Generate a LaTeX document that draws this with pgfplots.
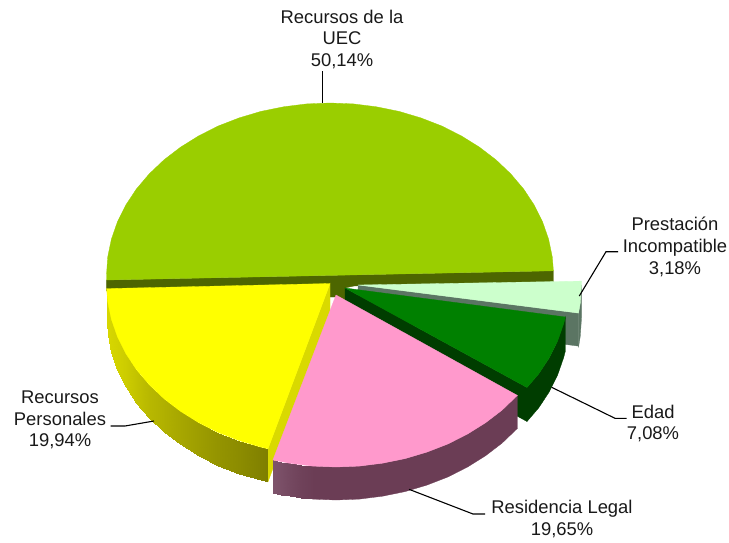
\documentclass[border=0pt]{standalone}
\usepackage{fontspec}
\setmainfont{Liberation Sans}
\usepackage{pgfplots}
\pgfplotsset{compat=1.18}
\pgfplotsset{
  pc/.style={fill=#1,draw=#1,line width=0.3pt,mark=none,forget plot},
  lead/.style={draw=black,line width=1.1pt,mark=none,forget plot,line join=miter},
  wall/.style={patch,patch type=rectangle,shader=interp,point meta=explicit,mark=none,forget plot}
}
\tikzset{lab/.style={align=center,font=\fontsize{18.4}{21.7}\selectfont,text=black!90,inner sep=0pt,anchor=center}}
\definecolor{gtop}{HTML}{9ACE00}
\definecolor{gside}{HTML}{4D6600}
\definecolor{ltop}{HTML}{CCFFCC}
\definecolor{lside}{HTML}{5B7563}
\definecolor{dtop}{HTML}{008000}
\definecolor{dside}{HTML}{003D00}
\definecolor{ystrip}{HTML}{D9D900}
\definecolor{ytop}{HTML}{FFFF00}
\definecolor{ptop}{HTML}{FF99CC}
\definecolor{pe}{HTML}{6B3D55}
\pgfplotstableread{
x y c
106.6 288.6 88
107.7 301.5 88
107.7 334.5 88
106.6 321.6 88
107.7 301.5 88
111.4 319.3 86
111.4 352.3 86
107.7 334.5 88
111.4 319.3 86
117.4 336.6 83
117.4 369.6 83
111.4 352.3 86
117.4 336.6 83
125.8 353.5 77
125.8 386.5 77
117.4 369.6 83
125.8 353.5 77
136.4 369.5 68
136.4 402.5 68
125.8 386.5 77
136.4 369.5 68
149.2 384.6 57
149.2 417.6 57
136.4 402.5 68
149.2 384.6 57
163.9 398.6 49
163.9 431.6 49
149.2 417.6 57
163.9 398.6 49
180.5 411.3 40
180.5 444.3 40
163.9 431.6 49
180.5 411.3 40
198.6 422.6 30
198.6 455.6 30
180.5 444.3 40
198.6 422.6 30
218.2 432.5 21
218.2 465.5 21
198.6 455.6 30
218.2 432.5 21
239.1 440.6 13
239.1 473.6 13
218.2 465.5 21
239.1 440.6 13
260.9 447.1 3
260.9 480.1 3
239.1 473.6 13
260.9 447.1 3
268 448.8 0
268 481.8 0
260.9 480.1 3
}\yellowwall
\pgfplotstableread{
x y c
272.9 460 190
281 461.6 170
281 494.6 170
272.9 493 190
281 461.6 170
289.5 463.2 145
289.5 496.2 145
281 494.6 170
289.5 463.2 145
301 464.7 120
301 497.7 120
289.5 496.2 145
301 464.7 120
312.6 466.1 103
312.6 499.1 103
301 497.7 120
}\pinkwall
\begin{document}
\begin{tikzpicture}
\begin{axis}[
  scale only axis,width=729pt,height=542pt,
  xmin=0,xmax=729,ymin=0,ymax=542,y dir=reverse,
  point meta min=0,point meta max=200,
  colormap={walls}{rgb255(0)=(127,127,0) rgb255(100)=(227,227,0) rgb255(101)=(107,61,85) rgb255(200)=(128,86,110)},
  axis lines=none,clip=false]
\addplot[draw=none,forget plot] coordinates {(0,0)(729,542)};
% Recursos de la UEC
\addplot[pc=gside] coordinates {(106.6,280)(553.4,270.8)(553.4,281.8)(106.6,291)} --cycle;
\addplot[pc=gtop] coordinates {(553.4,270.8)(552.3,257.0)(548.6,239.2)(542.6,221.9)(534.2,205.0)(523.6,189.0)(510.8,173.9)(496.1,159.9)(479.5,147.2)(461.4,135.9)(441.8,126.0)(420.9,117.9)(399.1,111.4)(376.5,106.8)(353.4,103.9)(330,103)(306.6,103.9)(283.5,106.8)(260.9,111.4)(239.1,117.9)(218.2,126.0)(198.6,135.9)(180.5,147.2)(163.9,159.9)(149.2,173.9)(136.4,189.0)(125.8,205.0)(117.4,221.9)(111.4,239.2)(107.7,257.0)(106.5,275)(106.6,280)} --cycle;
\addplot[pc=gside] coordinates {(330,283)(358,283.5)(358,285)(345,288)(345,300)(336,297)(330,297)} --cycle;
% Prestacion Incompatible
\addplot[pc=lside] coordinates {(358,285)(578.5,313.1)(578.5,346.1)(358,318)} --cycle;
\addplot[pc=lside] coordinates {(581.5,285)(580.3,303)(578.5,313.1)(578.5,347.5)(580.3,336)(581.5,318)} --cycle;
\addplot[pc=ltop] coordinates {(358,285)(581.5,281.1)(581.5,285)(580.3,303)(578.5,313.1)} --cycle;
% Edad
\addplot[pc=dside] coordinates {(345,288)(527,387.5)(527,421.5)(345,322)} --cycle;
\addplot[pc=dside] coordinates {(527,387.5)(538.6,374)(549.2,358)(557.6,341.1)(563.6,323.8)(565.4,317)(565.4,351)(563.6,357.8)(557.6,375.1)(549.2,392)(538.6,408)(527,421.5)} --cycle;
\addplot[pc=dtop] coordinates {(345,288)(565.4,317)(563.6,323.8)(557.6,341.1)(549.2,358)(538.6,374)(527,387.5)} --cycle;
% Recursos Personales
\addplot[pc=ystrip] coordinates {(330,283.5)(330,316.5)(268,481.8)(268,448.8)} --cycle;
\addplot[wall] table[meta=c] {\yellowwall};
\addplot[pc=ytop] coordinates {(330,283.5)(106.6,288.6)(107.7,301.5)(111.4,319.3)(117.4,336.6)(125.8,353.5)(136.4,369.5)(149.2,384.6)(163.9,398.6)(180.5,411.3)(198.6,422.6)(218.2,432.5)(239.1,440.6)(260.9,447.1)(268,448.8)} --cycle;
% Residencia Legal
\addplot[pc=pe] coordinates {(312.6,466.1)(336,467)(359.4,466.1)(382.5,463.2)(405.1,458.6)(426.9,452.1)(447.8,444.0)(467.4,434.1)(485.5,422.8)(502.1,410.1)(517.4,395.4)(517.4,428.4)(502.1,443.1)(485.5,455.8)(467.4,467.1)(447.8,477.0)(426.9,485.1)(405.1,491.6)(382.5,496.2)(359.4,499.1)(336,500)(312.6,499.1)} --cycle;
\addplot[wall] table[meta=c] {\pinkwall};
\addplot[pc=ptop] coordinates {(336,295)(272.9,460)(289.5,463.2)(312.6,466.1)(336,467)(359.4,466.1)(382.5,463.2)(405.1,458.6)(426.9,452.1)(447.8,444.0)(467.4,434.1)(485.5,422.8)(502.1,410.1)(517.4,395.4)} --cycle;
% leaders
\addplot[lead] coordinates {(322.7,103)(322.7,71)};
\addplot[lead] coordinates {(579.3,296)(606,251.7)(618,251.7)};
\addplot[lead] coordinates {(551.7,387.3)(615,418.3)(626.7,418.3)};
\addplot[lead] coordinates {(409,489.3)(473,514)(485,514)};
\addplot[lead] coordinates {(154,421)(125,426)(110.7,426)};
% labels
\node[lab] at (axis cs:342,39.5) {Recursos de la\\UEC\\50,14\%};
\node[lab] at (axis cs:675,247) {Prestación\\Incompatible\\3,18\%};
\node[lab] at (axis cs:653,423.5) {Edad\\7,08\%};
\node[lab] at (axis cs:562,519) {Residencia Legal\\19,65\%};
\node[lab] at (axis cs:60,420) {Recursos\\Personales\\19,94\%};
\end{axis}
\end{tikzpicture}
\end{document}
